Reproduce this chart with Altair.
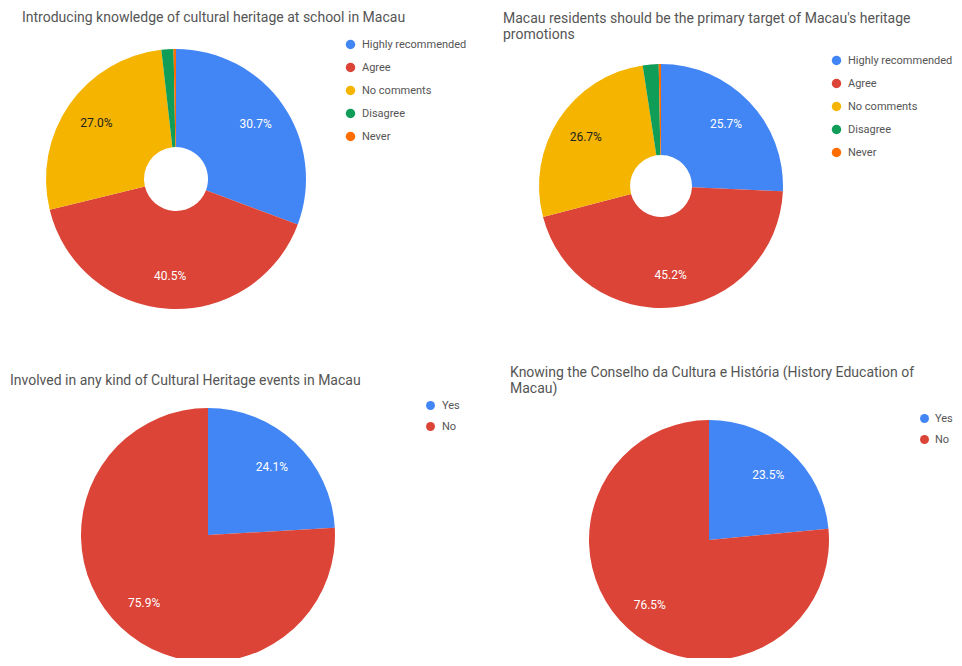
import altair as alt
import pandas as pd

# ---------------- data ----------------
cats_opinion = ["Highly recommended", "Agree", "No comments", "Disagree", "Never"]
colors_opinion = ["#4285F4", "#DB4437", "#F4B400", "#0F9D58", "#FF6D00"]
school_values = [30.7, 40.5, 27.0, 1.5, 0.3]
residents_values = [25.7, 45.2, 26.7, 2.1, 0.3]

cats_yesno = ["Yes", "No"]
colors_yesno = ["#4285F4", "#DB4437"]
events_values = [24.1, 75.9]
conselho_values = [23.5, 76.5]

titles = [
    "Introducing knowledge of cultural heritage at school in Macau",
    "Macau residents should be the primary target of Macau's heritage\npromotions",
    "Involved in any kind of Cultural Heritage events in Macau",
    "Knowing the Conselho da Cultura e História (History Education of\nMacau)",
]

FONT = "Roboto"


def make_df(cats, vals):
    return pd.DataFrame({
        "cat": cats,
        "v": vals,
        "i": list(range(len(cats))),
        "lab": [f"{v:.1f}%" if v >= 5 else "" for v in vals],
        "lc": ["#222222" if c == "No comments" else "#ffffff" for c in cats],
    })


def pie(cats, vals, colors, cx, cy, R, inner, lr, lx, ly, sym, lfs, rowpad, loff=6):
    df = make_df(cats, vals)
    base = alt.Chart(df)
    arc = base.mark_arc(x=cx, y=cy, outerRadius=R, innerRadius=inner).encode(
        theta=alt.Theta("v:Q", stack=True),
        color=alt.Color(
            "cat:N",
            scale=alt.Scale(domain=cats, range=colors),
            legend=alt.Legend(
                orient="none", legendX=lx, legendY=ly, title=None,
                symbolType="circle", symbolSize=sym, symbolStrokeWidth=0,
                labelFontSize=lfs, labelFont=FONT, labelColor="#555555",
                rowPadding=rowpad, labelOffset=loff, padding=0,
            ),
        ),
        order=alt.Order("i:Q"),
    )
    txt = base.mark_text(x=cx, y=cy, radius=lr, fontSize=12, font=FONT).encode(
        theta=alt.Theta("v:Q", stack=True),
        text="lab:N",
        color=alt.Color("lc:N", scale=None),
        order=alt.Order("i:Q"),
    )
    return [arc, txt]


def title_layer(t, x, y):
    return alt.Chart(pd.DataFrame({"t": [t]})).mark_text(
        align="left", baseline="middle", fontSize=14, font=FONT,
        color="#555555", lineBreak="\n", lineHeight=16,
    ).encode(text="t:N", x=alt.value(x), y=alt.value(y))


layers = []
layers += pie(cats_opinion, school_values, colors_opinion, 168, 171, 130, 32, 97, 337, 31, 90, 11, 11)
layers += pie(cats_opinion, residents_values, colors_opinion, 653, 178, 122, 31, 90, 823, 47, 90, 11, 11)
layers += pie(cats_yesno, events_values, colors_yesno, 200, 527, 127, 0, 93, 417, 392, 80, 11, 9)
layers += pie(cats_yesno, conselho_values, colors_yesno, 701, 532, 120, 0, 88, 911, 405, 80, 11, 9, 5)

layers.append(title_layer(titles[0], 14, 10))
layers.append(title_layer(titles[1], 495, 11))
layers.append(title_layer(titles[2], 2, 373))
layers.append(title_layer(titles[3], 502, 365))

chart = (
    alt.layer(*layers)
    .resolve_scale(color="independent", theta="independent")
    .properties(width=946, height=650, padding=0, autosize="none")
    .configure_view(stroke=None)
)

chart.save("out.html", embed_options={"renderer": "svg", "actions": False})
